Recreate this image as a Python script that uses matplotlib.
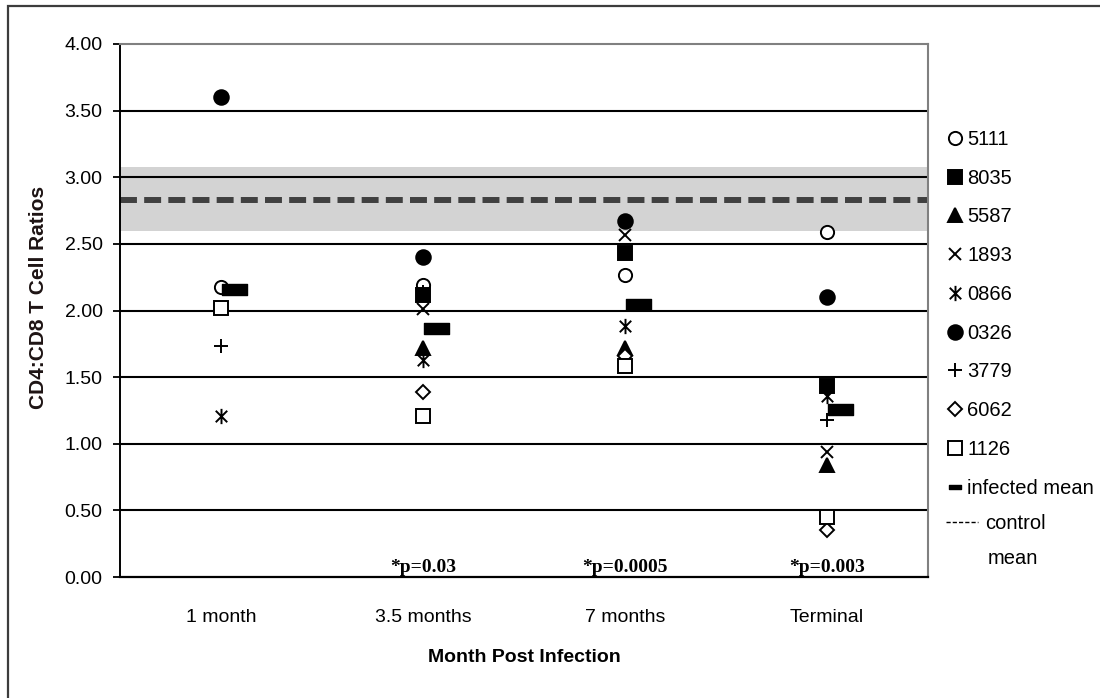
import numpy as np
import matplotlib
matplotlib.use('Agg')
import matplotlib.pyplot as plt
from matplotlib.path import Path
from matplotlib.lines import Line2D
from matplotlib.patches import Rectangle

plt.rcParams['font.family'] = ['Liberation Sans', 'DejaVu Sans']
plt.rcParams['lines.scale_dashes'] = False

# time points post infection
timepoints = ['1 month', '3.5 months', '7 months', 'Terminal']

# CD4:CD8 ratio per animal (nan = no sample)
r5111 = [2.18, 2.19, 2.27, 2.59]
r8035 = [np.nan, 2.12, 2.43, 1.43]
r5587 = [np.nan, 1.72, 1.72, 0.84]
r1893 = [np.nan, 2.01, 2.57, 0.94]
r0866 = [1.21, 1.63, 1.88, 1.36]
r0326 = [3.60, 2.40, 2.67, 2.10]
r3779 = [1.73, 2.14, 1.62, 1.18]
r6062 = [np.nan, 1.39, 1.66, 0.35]
r1126 = [2.02, 1.21, 1.58, 0.45]

infected_mean = [2.16, 1.87, 2.05, 1.26]

control_mean = 2.83
control_lo, control_hi = 2.60, 3.08

p_labels = ['', '*p=0.03', '*p=0.0005', '*p=0.003']

yticks = np.arange(0, 4.01, 0.5)

x = np.arange(len(timepoints))

# x with a vertical stroke (Excel "star")
star = Path([(0, -1), (0, 1), (-0.75, -0.75), (0.75, 0.75), (-0.75, 0.75), (0.75, -0.75)],
            [Path.MOVETO, Path.LINETO] * 3)

# (label, values, marker, size, face colour)
series = [
    ('5111', r5111, 'o', 9.5, 'white'),
    ('8035', r8035, 's', 9.5, 'black'),
    ('5587', r5587, '^', 10.5, 'black'),
    ('1893', r1893, 'x', 9, 'black'),
    ('0866', r0866, star, 11, 'black'),
    ('0326', r0326, 'o', 10.5, 'black'),
    ('3779', r3779, '+', 10, 'black'),
    ('6062', r6062, 'D', 7.5, 'white'),
    ('1126', r1126, 's', 9.5, 'white'),
]

bar = Path([(-12.5, -5.5), (12.5, -5.5), (12.5, 5.5), (-12.5, 5.5), (-12.5, -5.5)],
           [Path.MOVETO, Path.LINETO, Path.LINETO, Path.LINETO, Path.CLOSEPOLY])

fig = plt.figure(figsize=(11, 6.98), dpi=100)
ax = fig.add_axes([120 / 1100, 1 - 577 / 698, 808 / 1100, 533 / 698])

# outer frame of the figure panel
fig.add_artist(Rectangle((8 / 1100, -0.05), 1.2, 1 - 6 / 698 + 0.05, fill=False,
                         edgecolor='#3c3c3c', lw=1.6, transform=fig.transFigure))

ax.axhspan(control_lo, control_hi, color='#d3d3d3', zorder=0, lw=0)
for yv in yticks[1:-1]:
    ax.axhline(yv, color='black', lw=1.5, zorder=1)
ax.axhline(control_mean, color='#404040', lw=4.3, dashes=(12.2, 5.2), zorder=2)

handles = []
for name, vals, mk, ms, fc in series:
    ln, = ax.plot(x, vals, ls='none', marker=mk, ms=ms, mfc=fc, mec='black',
                  mew=1.4, color='black', zorder=3, label=name)
    handles.append(ln)

ax.plot(x + 0.062, infected_mean, ls='none', marker=bar, ms=18, color='black', zorder=4)

for xi, lab in zip(x, p_labels):
    ax.text(xi, 0.01, lab, ha='center', va='bottom', family='Liberation Serif',
            weight='bold', fontsize=14, zorder=5)

ax.set_xlim(-0.5, 3.5)
ax.set_ylim(0, 4)
ax.set_yticks(yticks)
ax.set_yticklabels(['%.2f' % v for v in yticks], fontsize=14)
ax.set_xticks(x)
ax.set_xticklabels(timepoints, fontsize=14)
ax.tick_params(axis='x', length=0, pad=23)
ax.tick_params(axis='y', length=5, width=1.3, pad=7.5, direction='out')

for s in ['top', 'right']:
    ax.spines[s].set_color('#808080')
    ax.spines[s].set_linewidth(1.5)
ax.spines['left'].set_linewidth(1.4)
ax.spines['bottom'].set_linewidth(1.6)

fig.text(38.5 / 1100, 1 - 297 / 698, 'CD4:CD8 T Cell Ratios', rotation=90, ha='center',
         va='center', weight='bold', fontsize=15, color='#1e1414')
fig.text(524 / 1100, 1 - 657 / 698, 'Month Post Infection', ha='center', va='center',
         weight='bold', fontsize=14)

# legend: animals + infected mean, then control mean on its own
mean_handle = Line2D([], [], ls='none', marker=bar, ms=8, color='black')
leg = ax.legend(handles + [mean_handle], [h.get_label() for h in handles] + ['infected mean'],
                loc='upper left', bbox_to_anchor=(945 / 1100, 1 - 130 / 698),
                bbox_transform=fig.transFigure, frameon=False, fontsize=14.5,
                handlelength=1.0, handletextpad=0.1, labelspacing=0.98,
                borderpad=0, borderaxespad=0)
ax.add_artist(leg)

ctrl_handle = Line2D([], [], color='black', lw=1, dashes=(3, 1.5))
ax.legend([ctrl_handle], ['control'], loc='upper left',
          bbox_to_anchor=(946 / 1100, 1 - 514 / 698), bbox_transform=fig.transFigure,
          frameon=False, fontsize=14.5, handlelength=1.6, handletextpad=0.35,
          borderpad=0, borderaxespad=0)
fig.text(988 / 1100, 1 - 558 / 698, 'mean', ha='left', va='center', fontsize=14.5)

fig.savefig('out.png', dpi=100)
